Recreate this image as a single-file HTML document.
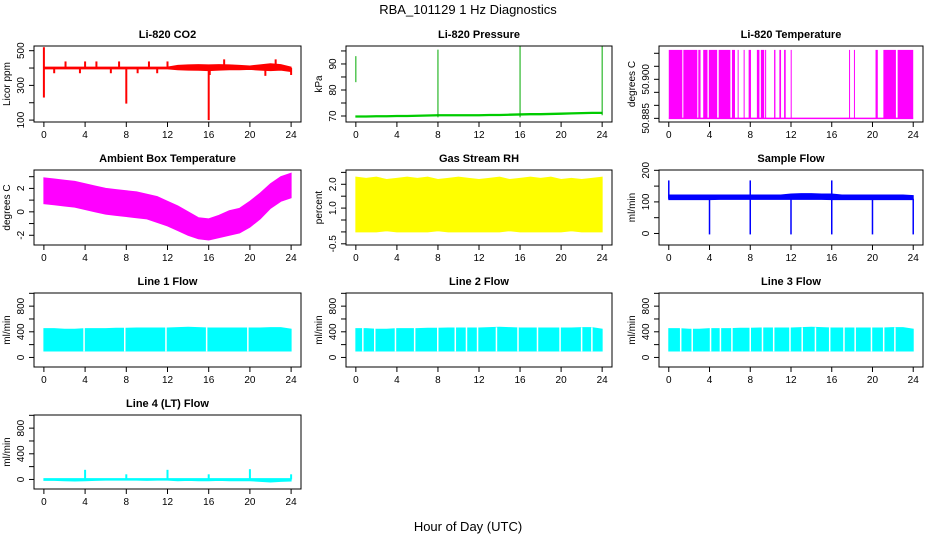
<!DOCTYPE html>
<html><head><meta charset="utf-8"><style>
html,body{margin:0;padding:0;background:#fff;}
svg{display:block;font-family:"Liberation Sans",Arial,sans-serif;}
</style></head><body>
<svg id="chart" width="936" height="540" viewBox="0 0 936 540">
<text x="468" y="14" text-anchor="middle" font-size="13">RBA_101129  1 Hz Diagnostics</text>
<text x="468" y="531" text-anchor="middle" font-size="13">Hour of Day (UTC)</text>
</svg>
<script>
// ---- data ----
const hours = [0,1,2,3,4,5,6,7,8,9,10,11,12,13,14,15,16,17,18,19,20,21,22,23,24];
const xTicks = [0,4,8,12,16,20,24];
// CO2
const co2Upper = [405,405,405,405,405,405,405,405,405,405,405,405,405,415,418,420,418,420,418,415,412,418,425,420,405];
const co2Lower = [395,395,395,395,395,395,395,395,395,395,395,395,395,390,388,387,385,388,390,390,392,388,385,388,380];
const co2SpikeT = [0,0,2.1,4,5.1,7.3,8,10.2,12,16,16.1,1.0,3.5,6.5,9.1,11,24,21.5,22.5,17.5];
const co2SpikeV = [520,230,438,438,438,438,195,438,438,100,360,370,370,370,370,370,360,355,450,450];
// Pressure
const presBase = [69.8,69.8,69.9,69.9,70.0,70.0,70.1,70.2,70.3,70.3,70.3,70.3,70.3,70.4,70.4,70.5,70.6,70.7,70.7,70.8,70.9,71.0,71.1,71.2,71.2];
const presSpikeT = [0,8,16,24];
const presSpikeLo = [83,69.5,69.5,70.3];
const presSpikeHi = [93,95.5,97,97];
// Li-820 temperature: intervals at high value
const tempStart = [0.0,1.43,2.9,3.38,3.93,4.9,6.2,6.76,7.35,7.84,8.65,9.04,9.46,10.34,10.86,11.32,11.97,17.7,18.18,20.3,21.07,22.47];
const tempEnd   = [1.33,2.8,3.12,3.8,4.75,6.05,6.5,6.86,7.4,8.07,8.9,9.37,9.56,10.47,11.02,11.48,12.03,17.76,18.24,20.52,22.3,24.0];
const tempLow = 50.885, tempHigh = 50.9113;
// Ambient box temperature
const ambUpper = [2.9,2.8,2.7,2.6,2.4,2.2,2.0,1.9,1.8,1.7,1.5,1.3,0.9,0.5,0.0,-0.5,-0.6,-0.3,0.1,0.3,0.9,1.6,2.4,3.0,3.3];
const ambLower = [0.7,0.6,0.5,0.4,0.2,0.0,-0.2,-0.3,-0.4,-0.5,-0.6,-0.9,-1.2,-1.6,-2.0,-2.3,-2.4,-2.2,-2.0,-1.8,-1.3,-0.6,0.3,0.9,1.2];
// RH
const rhUpper = [2.3,2.25,2.3,2.2,2.25,2.3,2.25,2.3,2.2,2.25,2.3,2.25,2.2,2.25,2.3,2.2,2.25,2.3,2.25,2.3,2.2,2.25,2.2,2.25,2.3];
const rhLower = [0.0,0.0,0.0,0.05,0.0,0.0,0.0,0.0,0.05,0.0,0.0,0.0,0.0,0.0,0.0,0.05,0.0,0.0,0.0,0.0,0.0,0.05,0.0,0.0,0.0];
// Sample flow
const sfUpper = [122,122,122,122,122,122,122,122,122,122,122,122,125,126,126,125,125,122,122,122,122,122,122,122,120];
const sfLower = [107,107,107,107,107,108,108,108,108,108,108,108,108,108,108,108,107,107,107,107,107,107,107,107,107];
const sfSpikeT = [0,4,8,8,12,16,16,20,24];
const sfSpikeV = [168,-3,-3,168,-3,-3,168,-3,-3];
// Line flows
const flowUpper = [450,450,440,440,450,450,450,455,455,460,460,460,460,465,470,465,460,460,460,460,460,460,465,465,440];
const flowLower = [100,100,100,100,100,100,100,100,100,100,100,100,100,100,100,100,100,100,100,100,100,100,100,100,100];
const line1Gaps = [3.9,7.85,11.85,15.8,19.8];
const line2Gaps = [0.68,1.84,3.86,5.73,7.98,9.69,10.78,11.86,13.7,15.8,17.7,19.9,22.0,23.0];
const line3Gaps = [1.17,2.3,4.1,5.07,6.2,8.0,9.2,10.3,11.9,13.1,14.4,15.8,17.2,18.3,19.9,21.1,22.2];
// Line 4
const l4Upper = [12,12,12,12,12,12,12,12,12,12,12,12,12,12,12,12,12,12,12,12,12,12,12,12,12];
const l4Lower = [-15,-15,-20,-25,-20,-15,-10,-10,-10,-10,-15,-10,-10,-20,-15,-20,-20,-15,-20,-20,-20,-30,-40,-30,-25];
const l4SpikeT = [4,8,12,16,20,24];
const l4SpikeV = [150,80,150,80,160,80];

// ---- layout ----
const svg = document.getElementById('chart');
const NS = 'http://www.w3.org/2000/svg';
const cols = [[34,301],[346,612],[659,923]];
const rows = [[46,122],[170,245],[293,367],[415,489]];
function mk(tag, attrs, parent){
  const e = document.createElementNS(NS, tag);
  for (const k in attrs) e.setAttribute(k, attrs[k]);
  (parent||svg).appendChild(e);
  return e;
}
function panel(col,row,title,ylab,ylim,yTicks,yLabels,name){
  const [x0,x1] = cols[col], [y0,y1] = rows[row];
  const g = mk('g',{});
  
  
  const xs = t => x0 + (t + 0.96) / 25.92 * (x1 - x0);
  const ys = v => y1 - (v - ylim[0]) / (ylim[1] - ylim[0]) * (y1 - y0);
  const t = mk('text',{x:(x0+x1)/2,y:y0-8,'text-anchor':'middle','font-size':11,'font-weight':'bold'},g);
  t.textContent = title;
  
  
  const cy = (y0+y1)/2;
  const yl = mk('text',{x:x0-24,y:cy,'text-anchor':'middle','font-size':10,transform:`rotate(-90 ${x0-24} ${cy})`},g);
  yl.textContent = ylab;
  
  
  const plot = mk('g',{},g);
  
  
  const box = mk('rect',{x:x0,y:y0,width:x1-x0,height:y1-y0,fill:'none',stroke:'#000','stroke-width':1},g);
  
  
  xTicks.forEach(v=>{
    const X = xs(v);
    mk('line',{x1:X,x2:X,y1:y1,y2:y1+5,stroke:'#000'},g);
    const tl = mk('text',{x:X,y:y1+16,'text-anchor':'middle','font-size':10},g);
    tl.textContent = v;
    
    
  });
  yTicks.forEach(v=>{
    const Y = ys(v);
    mk('line',{x1:x0-5,x2:x0,y1:Y,y2:Y,stroke:'#000'},g);
  });
  yLabels.forEach(v=>{
    const Y = ys(v);
    const tl = mk('text',{x:x0-10,y:Y,'text-anchor':'middle','font-size':10,transform:`rotate(-90 ${x0-10} ${Y})`},g);
    tl.textContent = v;
    
    
  });
  return {xs,ys,plot};
}
function band(p, up, lo, color){
  let d = '';
  hours.forEach((h,i)=>{ d += (i?'L':'M') + p.xs(h) + ' ' + p.ys(up[i]) + ' '; });
  for (let i=hours.length-1;i>=0;i--) d += 'L' + p.xs(hours[i]) + ' ' + p.ys(lo[i]) + ' ';
  d += 'Z';
  const e = mk('path',{d, fill:color, stroke:color,'stroke-width':1}, p.plot);
  
  
}
function vline(p,t,a,b,color,w){
  const e = mk('line',{x1:p.xs(t),x2:p.xs(t),y1:p.ys(a),y2:p.ys(b),stroke:color,'stroke-width':w||1.5},p.plot);
  
  
}

// CO2
let p = panel(0,0,'Li-820 CO2','Licor ppm',[89,527],[100,200,300,400,500],[100,300,500],'co2');
band(p,co2Upper,co2Lower,'#ff0000');
co2SpikeT.forEach((t,i)=>vline(p,t,400,co2SpikeV[i],'#ff0000',2));
// Pressure
p = panel(1,0,'Li-820 Pressure','kPa',[67.7,96.9],[70,75,80,85,90,95],[70,80,90],'pressure');
band(p,presBase.map(v=>v+0.25),presBase.map(v=>v-0.25),'#00cc00');
presSpikeT.forEach((t,i)=>vline(p,t,presSpikeLo[i],presSpikeHi[i],'#00aa00',1));
// Temperature
p = panel(2,0,'Li-820 Temperature','degrees C',[50.8836,50.9128],[50.885,50.89,50.895,50.9,50.905,50.91],['50.885','50.900'],'li820-temp');
(function(){
  const e = mk('line',{x1:p.xs(0),x2:p.xs(24),y1:p.ys(tempLow),y2:p.ys(tempLow),stroke:'#ff00ff','stroke-width':1.5},p.plot);
  
  
  tempStart.forEach((s,i)=>{
    const r = mk('rect',{x:p.xs(s),y:p.ys(tempHigh),width:Math.max(1,p.xs(tempEnd[i])-p.xs(s)),height:p.ys(tempLow)-p.ys(tempHigh),fill:'#ff00ff'},p.plot);
    
    
  });
})();
// Ambient
p = panel(0,1,'Ambient Box Temperature','degrees C',[-2.83,3.57],[-2,-1,0,1,2,3],[-2,0,2],'ambient-temp');
band(p,ambUpper,ambLower,'#ff00ff');
// RH
p = panel(1,1,'Gas Stream RH','percent',[-0.55,2.6],[-0.5,0,0.5,1,1.5,2,2.5],['-0.5','1.0','2.0'],'rh');
band(p,rhUpper,rhLower,'#ffff00');
// Sample flow
p = panel(2,1,'Sample Flow','ml/min',[-36.5,201],[0,50,100,150,200],[0,100,200],'sample-flow');
band(p,sfUpper,sfLower,'#0000ff');
sfSpikeT.forEach((t,i)=>vline(p,t,110,sfSpikeV[i],'#0000ff',1.5));
// Line flows
[[0,'Line 1 Flow',line1Gaps,'line1-flow'],[1,'Line 2 Flow',line2Gaps,'line2-flow'],[2,'Line 3 Flow',line3Gaps,'line3-flow']].forEach(([c,title,gaps,nm])=>{
  const q = panel(c,2,title,'ml/min',[-149,1005],[0,200,400,600,800,1000],[0,400,800],nm);
  band(q,flowUpper,flowLower,'#00ffff');
  gaps.forEach(t=>vline(q,t,flowLower[0]-5,flowUpper[0]+20,'#ffffff',1.5));
});
// Line 4
p = panel(0,3,'Line 4 (LT) Flow','ml/min',[-149,1005],[0,200,400,600,800,1000],[0,400,800],'line4-flow');
band(p,l4Upper,l4Lower,'#00ffff');
l4SpikeT.forEach((t,i)=>vline(p,t,0,l4SpikeV[i],'#00ffff',2));
</script>
</body></html>
